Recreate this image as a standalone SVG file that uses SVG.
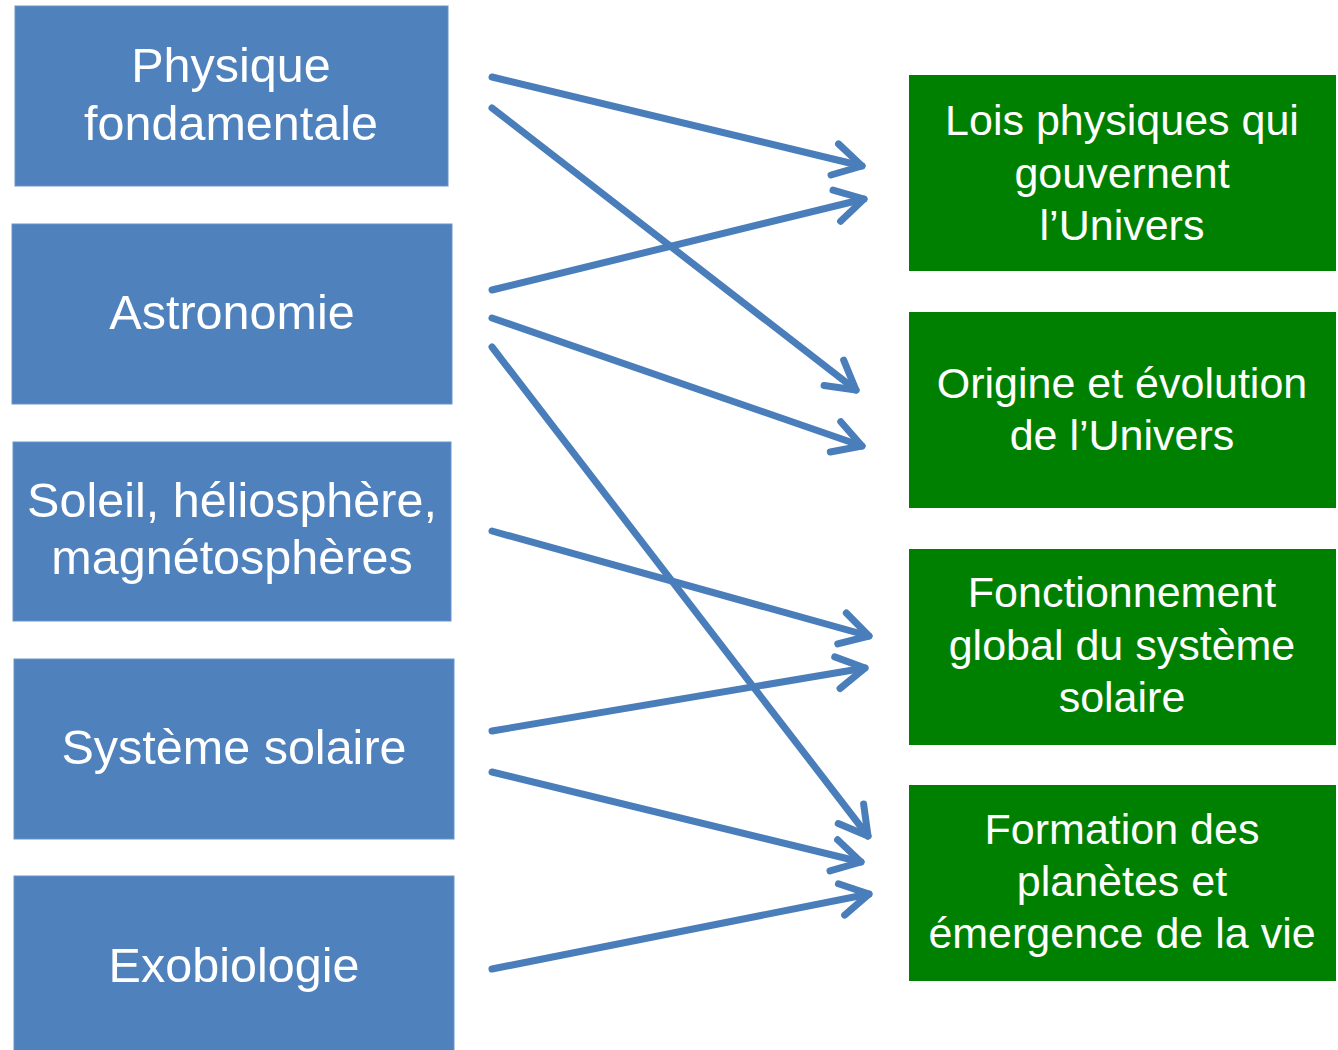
<svg xmlns="http://www.w3.org/2000/svg" width="1338" height="1050" viewBox="0 0 1338 1050">
<style>
.b{fill:#4F81BD;stroke:#6A93C8;stroke-width:1}
.g{fill:#008000}
.t{fill:#fff;font-family:"Liberation Sans",Arial,sans-serif;font-size:48.5px;text-anchor:middle}
.tg{fill:#fff;font-family:"Liberation Sans",Arial,sans-serif;font-size:43px;text-anchor:middle}
.c{stroke:#4A7EBB;stroke-width:7;fill:none;stroke-linecap:round;marker-end:url(#ah)}
</style>
<defs>
<marker id="ah" markerUnits="userSpaceOnUse" markerWidth="50" markerHeight="50" viewBox="-40 -25 50 50" refX="0" refY="0" orient="auto">
<path d="M-28,-16 L0,0 L-28,16" fill="none" stroke="#4A7EBB" stroke-width="7" stroke-linecap="round" stroke-linejoin="round"/>
</marker>
</defs>
<rect width="1338" height="1050" fill="#fff"/>
<g id="n-physique"><rect class="b" x="15" y="6" width="433" height="180"/><text class="t" x="231" y="82">Physique</text><text class="t" x="231" y="140">fondamentale</text></g>
<g id="n-astronomie"><rect class="b" x="12" y="224" width="440" height="180"/><text class="t" x="232" y="329">Astronomie</text></g>
<g id="n-soleil"><rect class="b" x="13" y="442" width="438" height="179"/><text class="t" x="232" y="517">Soleil, héliosphère,</text><text class="t" x="232" y="574">magnétosphères</text></g>
<g id="n-systeme"><rect class="b" x="14" y="659" width="440" height="180"/><text class="t" x="234" y="764">Système solaire</text></g>
<g id="n-exobio"><rect class="b" x="14" y="876" width="440" height="180"/><text class="t" x="234" y="982">Exobiologie</text></g>
<g id="n-lois"><rect class="g" x="909" y="75" width="427" height="196"/><text class="tg" x="1122" y="135">Lois physiques qui</text><text class="tg" x="1122" y="188">gouvernent</text><text class="tg" x="1122" y="240">l’Univers</text></g>
<g id="n-origine"><rect class="g" x="909" y="312" width="427" height="196"/><text class="tg" x="1122" y="398">Origine et évolution</text><text class="tg" x="1122" y="450">de l’Univers</text></g>
<g id="n-fonction"><rect class="g" x="909" y="549" width="427" height="196"/><text class="tg" x="1122" y="607">Fonctionnement</text><text class="tg" x="1122" y="660">global du système</text><text class="tg" x="1122" y="712">solaire</text></g>
<g id="n-formation"><rect class="g" x="909" y="785" width="427" height="196"/><text class="tg" x="1122" y="844">Formation des</text><text class="tg" x="1122" y="896">planètes et</text><text class="tg" x="1122" y="948">émergence de la vie</text></g>
<g id="connectors">
<line class="c" x1="492" y1="77" x2="862" y2="166"/>
<line class="c" x1="492" y1="108" x2="856" y2="390"/>
<line class="c" x1="492" y1="290" x2="864" y2="199"/>
<line class="c" x1="492" y1="318" x2="862" y2="446"/>
<line class="c" x1="492" y1="347" x2="868" y2="836"/>
<line class="c" x1="492" y1="531" x2="869" y2="636"/>
<line class="c" x1="492" y1="731" x2="865" y2="668"/>
<line class="c" x1="492" y1="772" x2="861" y2="862"/>
<line class="c" x1="492" y1="969" x2="869" y2="894"/>
</g>
</svg>
